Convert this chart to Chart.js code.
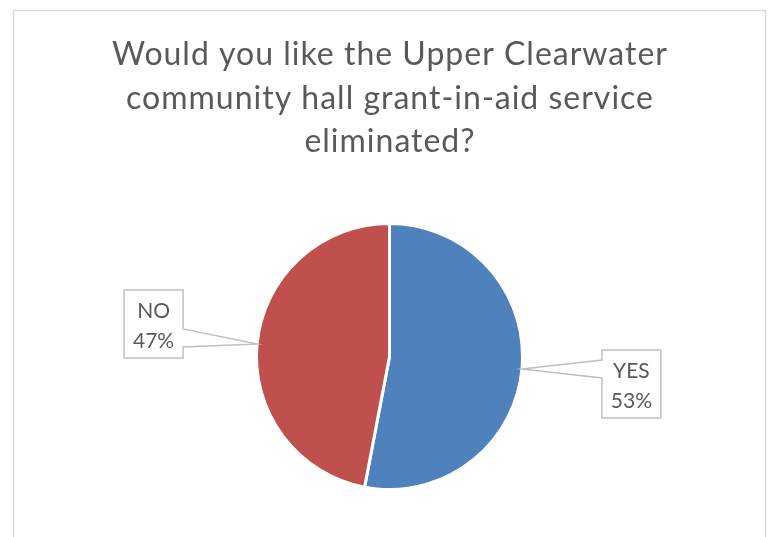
<!DOCTYPE html>
<html>
<head>
<meta charset="utf-8">
<script src="https://cdn.jsdelivr.net/npm/chart.js@4.4.0/dist/chart.umd.min.js"></script>
<style>
  html, body { margin: 0; padding: 0; background: #fff; }
  #wrap { width: 772px; height: 537px; }
</style>
</head>
<body>
<div id="wrap"><canvas id="pie" width="772" height="537"></canvas></div>
<script>
// --- Data ---
const categories = ['YES', 'NO'];
const values = [53, 47];
const colors = ['#4F81BD', '#C0504D'];
const titleLines = ['Would you like the Upper Clearwater', 'community hall grant-in-aid service', 'eliminated?'];

// callout box placement relative to the slice's edge point (gap to near box side, dy of box centre)
const calloutOffsets = [
    { side: 'right', gap: 80, dy: 15, base: -9 },
    { side: 'left', gap: 74, dy: -20, base: -15 }
];

const TEXT_COLOR = '#595959';
const FONT = 'Lato, "Open Sans", sans-serif';

// frame + title drawn before the pie
const framePlugin = {
    id: 'frame',
    beforeDraw(chart) {
        const ctx = chart.ctx;
        ctx.save();
        ctx.strokeStyle = '#d9d9d9';
        ctx.lineWidth = 1.5;
        ctx.strokeRect(13.5, 10.5, 752, 540);

        ctx.fillStyle = TEXT_COLOR;
        ctx.font = '32px ' + FONT;
        ctx.letterSpacing = '1px';
        ctx.textAlign = 'center';
        ctx.textBaseline = 'alphabetic';
        titleLines.forEach((line, i) => {
            ctx.fillText(line, 390, 65 + i * 43.5);
        });
        ctx.restore();
    }
};

// Excel style callout labels
const calloutPlugin = {
    id: 'callouts',
    afterDatasetsDraw(chart) {
        const ctx = chart.ctx;
        const meta = chart.getDatasetMeta(0);
        const total = values.reduce((a, b) => a + b, 0);
        ctx.save();
        meta.data.forEach((arc, i) => {
            const mid = (arc.startAngle + arc.endAngle) / 2;
            const tipX = arc.x + Math.cos(mid) * arc.outerRadius;
            const tipY = arc.y + Math.sin(mid) * arc.outerRadius;
            const off = calloutOffsets[i];
            const w = 59, h = 68;
            const cy = tipY + off.dy;
            const top = cy - h / 2, bottom = cy + h / 2;
            let left, right;
            if (off.side === 'right') {
                left = tipX + off.gap; right = left + w;
            } else {
                right = tipX - off.gap; left = right - w;
            }
            const b1 = tipY + off.base, b2 = b1 + 18;

            ctx.beginPath();
            if (off.side === 'right') {
                ctx.moveTo(left, top);
                ctx.lineTo(right, top);
                ctx.lineTo(right, bottom);
                ctx.lineTo(left, bottom);
                ctx.lineTo(left, b2);
                ctx.lineTo(tipX, tipY);
                ctx.lineTo(left, b1);
            } else {
                ctx.moveTo(left, top);
                ctx.lineTo(right, top);
                ctx.lineTo(right, b1);
                ctx.lineTo(tipX, tipY);
                ctx.lineTo(right, b2);
                ctx.lineTo(right, bottom);
                ctx.lineTo(left, bottom);
            }
            ctx.closePath();
            ctx.fillStyle = '#ffffff';
            ctx.fill();
            ctx.strokeStyle = '#bfbfbf';
            ctx.lineWidth = 1.5;
            ctx.stroke();

            const pct = Math.round(values[i] / total * 100) + '%';
            ctx.fillStyle = TEXT_COLOR;
            ctx.font = '21px ' + FONT;
            ctx.textAlign = 'center';
            ctx.textBaseline = 'alphabetic';
            const cx = (left + right) / 2;
            ctx.fillText(categories[i], cx, top + 28);
            ctx.fillText(pct, cx, top + 58);
        });
        ctx.restore();
    }
};

new Chart(document.getElementById('pie'), {
    type: 'pie',
    data: {
        labels: categories,
        datasets: [{
            data: values,
            backgroundColor: colors,
            borderColor: '#ffffff',
            borderWidth: 3,
            hoverOffset: 0
        }]
    },
    options: {
        responsive: false,
        animation: false,
        devicePixelRatio: 1,
        layout: { padding: { left: 255, right: 248, top: 221, bottom: 45 } },
        plugins: {
            legend: { display: false },
            title: { display: false },
            tooltip: { enabled: false }
        }
    },
    plugins: [framePlugin, calloutPlugin]
});
</script>
</body>
</html>
